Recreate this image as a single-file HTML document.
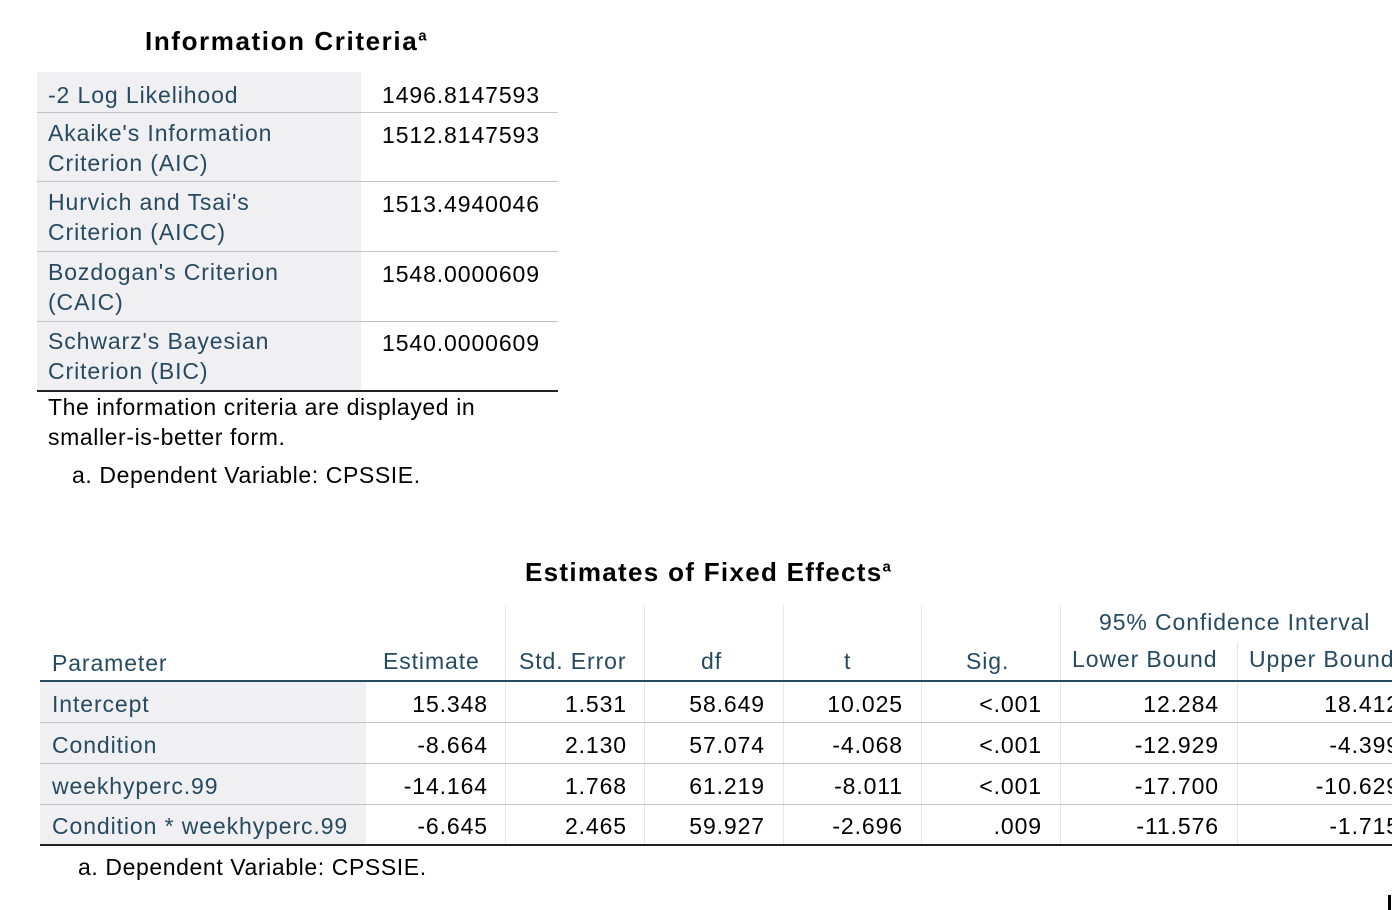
<!DOCTYPE html>
<html><head><meta charset="utf-8"><style>
body{margin:0;width:1392px;height:910px;background:#fff;overflow:hidden;position:relative;font-family:"Liberation Sans",sans-serif;}
.a{position:absolute;white-space:nowrap;}
.t{font-weight:bold;font-size:26px;color:#000;letter-spacing:1.6px}
.t sup{font-size:15px}
.l{color:#264a60;font-size:23px;line-height:30px;letter-spacing:0.9px}
.v{color:#000;font-size:23px;line-height:30px;letter-spacing:0.9px}
.bg{position:absolute;background:#f0eff1}
.h{position:absolute;height:1px;background:#c4c4c4}
.vl{position:absolute;width:1px;background:#e6e6e6}
.r{text-align:right}
.f{color:#000;font-size:23px;letter-spacing:0.6px}
</style></head><body>
<div class="a t" style="left:145px;top:26px">Information Criteria<sup>a</sup></div>
<div>
<div class="bg" style="left:37px;top:72px;width:324px;height:318px"></div>
<div class="h" style="left:37px;top:112px;width:521px"></div>
<div class="h" style="left:37px;top:181px;width:521px"></div>
<div class="h" style="left:37px;top:251px;width:521px"></div>
<div class="h" style="left:37px;top:321px;width:521px"></div>
<div class="h" style="left:37px;top:390px;width:521px;height:2px;background:#222"></div>
<div class="a l" style="left:48px;top:80px">-2 Log Likelihood</div>
<div class="a v" style="left:382px;top:80px">1496.8147593</div>
<div class="a l" style="left:48px;top:118px">Akaike's Information<br>Criterion (AIC)</div>
<div class="a v" style="left:382px;top:120px">1512.8147593</div>
<div class="a l" style="left:48px;top:187px">Hurvich and Tsai's<br>Criterion (AICC)</div>
<div class="a v" style="left:382px;top:189px">1513.4940046</div>
<div class="a l" style="left:48px;top:257px">Bozdogan's Criterion<br>(CAIC)</div>
<div class="a v" style="left:382px;top:259px">1548.0000609</div>
<div class="a l" style="left:48px;top:326px">Schwarz's Bayesian<br>Criterion (BIC)</div>
<div class="a v" style="left:382px;top:328px">1540.0000609</div>
</div>
<div class="a f" style="left:48px;top:392px;line-height:30px">The information criteria are displayed in<br>smaller-is-better form.</div>
<div class="a f" style="left:72px;top:462px">a. Dependent Variable: CPSSIE.</div>

<div class="a t" style="left:525px;top:557px;letter-spacing:1.3px">Estimates of Fixed Effects<sup>a</sup></div>
<div>
<div class="bg" style="left:40px;top:682px;width:326px;height:162px"></div>
<div class="vl" style="left:505px;top:605px;height:76px"></div>
<div class="vl" style="left:644px;top:605px;height:76px"></div>
<div class="vl" style="left:783px;top:605px;height:76px"></div>
<div class="vl" style="left:921px;top:605px;height:76px"></div>
<div class="vl" style="left:1060px;top:605px;height:76px"></div>
<div class="vl" style="left:1237px;top:642px;height:39px"></div>
<div class="vl" style="left:505px;top:682px;height:162px"></div>
<div class="vl" style="left:644px;top:682px;height:162px"></div>
<div class="vl" style="left:783px;top:682px;height:162px"></div>
<div class="vl" style="left:921px;top:682px;height:162px"></div>
<div class="vl" style="left:1060px;top:682px;height:162px"></div>
<div class="vl" style="left:1237px;top:682px;height:162px"></div>
<div class="h" style="left:40px;top:680px;width:1352px;height:2px;background:#264a60"></div>
<div class="h" style="left:40px;top:722px;width:1352px"></div>
<div class="h" style="left:40px;top:763px;width:1352px"></div>
<div class="h" style="left:40px;top:804px;width:1352px"></div>
<div class="h" style="left:40px;top:844px;width:1352px;height:2px;background:#222"></div>
<div class="a l" style="left:1099px;top:607px">95% Confidence Interval</div>
<div class="a l" style="left:52px;top:648px">Parameter</div>
<div class="a l" style="left:383px;top:646px">Estimate</div>
<div class="a l" style="left:519px;top:646px">Std. Error</div>
<div class="a l" style="left:701px;top:646px">df</div>
<div class="a l" style="left:844px;top:646px">t</div>
<div class="a l" style="left:966px;top:646px">Sig.</div>
<div class="a l" style="left:1072px;top:644px">Lower Bound</div>
<div class="a l" style="left:1249px;top:644px">Upper Bound</div>
<div id="rows"></div>
</div>
<div class="a f" style="left:78px;top:854px">a. Dependent Variable: CPSSIE.</div>
<div class="a" style="left:1388px;top:895px;width:3px;height:15px;background:#000"></div>
<script>
const params=["Intercept","Condition","weekhyperc.99","Condition * weekhyperc.99"];
const estimate=["15.348","-8.664","-14.164","-6.645"];
const stdErr=["1.531","2.130","1.768","2.465"];
const dfv=["58.649","57.074","61.219","59.927"];
const tv=["10.025","-4.068","-8.011","-2.696"];
const sig=["<.001","<.001","<.001",".009"];
const lower=["12.284","-12.929","-17.700","-11.576"];
const upper=["18.412","-4.399","-10.629","-1.715"];
const rowsEl=document.getElementById('rows');
const tops=[689,730,771,811];
const rights=[488,627,765,903,1042,1219,1400];
const cols=[estimate,stdErr,dfv,tv,sig,lower,upper];
params.forEach((p,i)=>{
  const d=document.createElement('div');
  d.className='a l';d.style.left='52px';d.style.top=tops[i]+'px';d.textContent=p;
  
  
  rowsEl.appendChild(d);
  cols.forEach((c,j)=>{
    const e=document.createElement('div');
    e.className='a v r';e.style.right=(1392-rights[j])+'px';e.style.top=tops[i]+'px';e.textContent=c[i];
    
    
    rowsEl.appendChild(e);
  });
});
</script>
</body></html>
